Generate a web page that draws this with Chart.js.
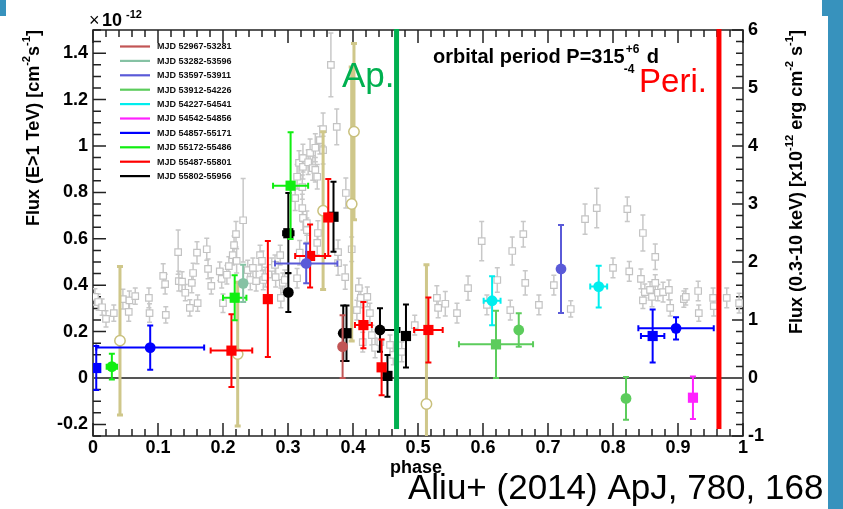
<!DOCTYPE html>
<html lang="en">
<head>
  <meta charset="UTF-8">
  <title>HESS J0632+057 phase-folded light curve</title>
  <script src="https://cdn.jsdelivr.net/npm/chart.js"></script>
  <style>
    html, body { margin: 0; padding: 0; background: #fff; }
    #wrap { position: relative; width: 843px; height: 509px; overflow: hidden; background: #fff; }
    #wrap canvas { display: block; }
    .band { position: absolute; background: #3792bd; }
  </style>
</head>
<body>
<div id="wrap">
  <canvas id="lc" width="843" height="509"></canvas>
  <div class="band" style="left:0;top:0;width:6px;height:16px"></div>
  <div class="band" style="left:822px;top:0;width:21px;height:16px"></div>
  <div class="band" style="left:828px;top:0;width:15px;height:509px"></div>
</div>

<script>
  const FONT = '"Liberation Sans", Arial, Helvetica, sans-serif';

  // axis ticks
  const phaseTicks = [0, 0.1, 0.2, 0.3, 0.4, 0.5, 0.6, 0.7, 0.8, 0.9, 1];
  const tevTicks = [-0.2, 0, 0.2, 0.4, 0.6, 0.8, 1, 1.2, 1.4];
  const xrayTicks = [-1, 0, 1, 2, 3, 4, 5, 6];

  // TeV flux per observing period: [phase, flux (1e-12), phase err, flux err, marker]
  const periods = ['MJD 52967-53281', 'MJD 53282-53596', 'MJD 53597-53911', 'MJD 53912-54226',
    'MJD 54227-54541', 'MJD 54542-54856', 'MJD 54857-55171', 'MJD 55172-55486',
    'MJD 55487-55801', 'MJD 55802-55956'];
  const mjd52967 = [[0.384, 0.135, 0, 0.135, 'ci']];
  const mjd53282 = [[0.231, 0.408, 0, 0.08, 'ci']];
  const mjd53597 = [[0.328, 0.494, 0.048, 0.086, 'ci'], [0.720, 0.470, 0, 0.19, 'ci']];
  const mjd53912 = [[0.620, 0.145, 0.057, 0.145, 'sq'], [0.655, 0.207, 0, 0.072, 'ci'], [0.820, -0.088, 0, 0.092, 'ci']];
  const mjd54227 = [[0.614, 0.333, 0.013, 0.106, 'ci'], [0.778, 0.394, 0.013, 0.09, 'ci']];
  const mjd54542 = [[0.923, -0.085, 0, 0.092, 'sq']];
  const mjd54857 = [[0.005, 0.043, 0, 0.095, 'sq'], [0.088, 0.131, 0.083, 0.095, 'ci'],
    [0.861, 0.181, 0.018, 0.114, 'sq'], [0.897, 0.214, 0.058, 0.048, 'ci']];
  const mjd55172 = [[0.029, 0.049, 0.008, 0.055, 'ci'], [0.218, 0.346, 0.018, 0.097, 'sq'], [0.304, 0.829, 0.027, 0.23, 'sq']];
  const mjd55487 = [[0.213, 0.118, 0.032, 0.157, 'sq'], [0.269, 0.340, 0, 0.25, 'sq'], [0.334, 0.526, 0.023, 0.136, 'sq'],
    [0.362, 0.692, 0, 0.166, 'sq'], [0.416, 0.228, 0.013, 0.10, 'sq'], [0.444, 0.046, 0, 0.12, 'sq'],
    [0.516, 0.207, 0.022, 0.14, 'sq']];
  const mjd55802 = [[0.3005, 0.624, 0.008, 0.173, 'sq'], [0.3005, 0.369, 0, 0.084, 'ci'], [0.370, 0.695, 0, 0.151, 'sq'],
    [0.385, 0.193, 0, 0.12, 'ci'], [0.390, 0.193, 0, 0.12, 'sq'], [0.4415, 0.207, [0, 0.03], 0.094, 'ci'],
    [0.453, 0.009, 0, 0.09, 'sq'], [0.4815, 0.181, 0, 0.136, 'sq']];
  const tevRows = [mjd52967, mjd53282, mjd53597, mjd53912, mjd54227, mjd54542, mjd54857, mjd55172, mjd55487, mjd55802];
  const periodColors = ['#c25555', '#86c2a4', '#5a5ad8', '#5ccc5c', '#00eeee', '#ff22ff', '#0000ff', '#11ee11', '#ff0000', '#000000'];

  // older TeV points (open circles)
  const openPhase = [0.0415, 0.2226, 0.354, 0.398, 0.4015, 0.513];
  const openFlux = [0.161, 0.103, 0.721, 0.750, 1.062, -0.112];
  const openErr = [0.32, 0.31, 0.34, 0.59, 0.38, 0.60];

  // Swift XRT 0.3-10 keV flux (1e-12 erg cm-2 s-1), right axis
  const xrayPhase = [0.003,0.008,0.014,0.020,0.032,0.046,0.055,0.056,0.065,0.086,
    0.087,0.108,0.111,0.112,0.131,0.132,0.137,0.142,0.149,0.152,
    0.154,0.160,0.161,0.175,0.177,0.182,0.195,0.198,0.200,0.206,
    0.209,0.215,0.217,0.220,0.221,0.231,0.238,0.242,0.246,0.251,
    0.257,0.260,0.262,0.265,0.275,0.280,0.281,0.288,0.289,0.292,
    0.295,0.311,0.314,0.314,0.317,0.318,0.322,0.322,0.323,0.323,
    0.323,0.329,0.329,0.331,0.334,0.338,0.342,0.342,0.345,0.345,
    0.346,0.349,0.354,0.354,0.366,0.375,0.377,0.377,0.388,0.389,
    0.398,0.406,0.409,0.412,0.415,0.422,0.426,0.429,0.434,0.442,
    0.457,0.462,0.475,0.495,0.529,0.531,0.542,0.560,0.577,0.598,
    0.606,0.622,0.642,0.645,0.662,0.665,0.686,0.709,0.735,0.757,
    0.775,0.800,0.822,0.825,0.843,0.846,0.846,0.849,0.857,0.860,
    0.865,0.865,0.869,0.877,0.886,0.888,0.909,0.912,0.931,0.932,
    0.954,0.955,0.975,0.994];
  const xrayFlux = [1.40,1.31,1.22,1.02,1.12,1.36,1.14,1.34,1.41,1.38,
    1.12,1.76,1.62,1.09,2.17,1.67,1.66,1.47,1.21,1.64,
    1.81,2.16,1.29,2.22,1.88,1.59,1.84,1.71,1.29,1.78,
    1.93,2.12,2.29,2.48,2.02,2.72,1.86,1.69,1.90,1.67,
    2.12,2.02,1.69,1.74,1.90,1.95,1.74,2.12,1.38,1.64,
    1.69,3.10,3.47,1.72,3.71,2.16,3.29,2.93,3.79,3.64,
    2.76,2.67,2.55,3.72,3.88,3.62,3.97,3.59,3.47,2.33,
    2.50,4.10,4.29,3.93,5.40,4.33,2.17,1.98,1.74,3.19,
    2.22,1.17,1.55,1.38,0.62,1.40,1.12,0.74,0.52,0.62,
    0.57,0.40,0.45,0.91,1.38,1.21,1.28,1.12,1.55,2.36,
    1.26,1.69,1.17,2.19,2.48,1.64,1.26,1.60,1.19,2.74,
    2.93,1.90,2.91,1.84,1.71,2.50,1.34,1.48,1.52,1.40,
    2.09,1.64,1.47,1.48,1.52,1.21,1.36,1.40,1.50,1.12,
    1.38,1.24,1.38,1.29];
  const xrayErr = [0.14,0.14,0.14,0.14,0.14,0.17,0.16,0.16,0.14,0.17,
    0.16,0.21,0.17,0.14,0.38,0.17,0.17,0.14,0.14,0.17,
    0.17,0.19,0.14,0.19,0.17,0.14,0.16,0.16,0.16,0.16,
    0.16,0.17,0.16,0.22,0.21,0.72,0.17,0.17,0.17,0.17,
    0.17,0.17,0.17,0.17,0.17,0.17,0.17,0.17,0.17,0.17,
    0.17,0.21,0.21,0.17,0.21,0.21,0.21,0.24,0.24,0.21,
    0.21,0.21,0.21,0.21,0.24,0.21,0.24,0.21,0.21,0.21,
    0.21,0.24,0.28,0.24,0.55,0.31,0.21,0.21,0.21,0.26,
    0.21,0.17,0.17,0.17,0.17,0.17,0.17,0.17,0.17,0.17,
    0.17,0.17,0.17,0.17,0.21,0.17,0.21,0.17,0.21,0.34,
    0.17,0.21,0.17,0.24,0.22,0.21,0.17,0.17,0.14,0.26,
    0.34,0.17,0.21,0.17,0.17,0.31,0.14,0.14,0.14,0.17,
    0.22,0.14,0.14,0.17,0.17,0.14,0.14,0.14,0.17,0.14,
    0.17,0.17,0.17,0.17];

  // apastron / periastron phases
  const apastron = 0.467;
  const periastron = 0.963;

  const fmt = v => String(Number(v.toFixed(2)));
  const tickFont = { family: FONT, size: 18, weight: 'bold' };

  const datasets = [];
  tevRows.forEach((rows, i) => {
    datasets.push({
      label: periods[i],
      yAxisID: 'y',
      order: 1,
      data: rows.map(r => ({ x: r[0], y: r[1] })),
      errX: rows.map(r => r[2]),
      errY: rows.map(r => r[3]),
      pointStyle: rows.map(r => r[4] === 'sq' ? 'rect' : 'circle'),
      pointRadius: rows.map(r => r[4] === 'sq' ? 7.2 : 5.4),
      backgroundColor: periodColors[i],
      borderColor: periodColors[i],
      borderWidth: 0,
      errColor: periodColors[i],
      errWidth: 2,
      capSize: 3
    });
  });
  datasets.push({
    label: 'open',
    yAxisID: 'y',
    order: 2,
    data: openPhase.map((p, j) => ({ x: p, y: openFlux[j] })),
    errY: openErr,
    pointStyle: 'circle',
    pointRadius: 5.2,
    backgroundColor: '#ffffff',
    borderColor: '#c9c07c',
    borderWidth: 1.5,
    errColor: '#cfc78a',
    errWidth: 3,
    capSize: 3
  });
  datasets.push({
    label: 'xray',
    yAxisID: 'y2',
    order: 3,
    data: xrayPhase.map((p, j) => ({ x: p, y: xrayFlux[j] })),
    errY: xrayErr,
    pointStyle: 'rect',
    pointRadius: 4.6,
    backgroundColor: '#ffffff',
    borderColor: '#c3c3c3',
    borderWidth: 1.2,
    errColor: '#c8c8c8',
    errWidth: 1.5,
    capSize: 2.5
  });

  // error bars go in right before each dataset's markers
  const errorBars = {
    id: 'errorBars',
    beforeDatasetDraw(chart, args) {
      const ds = chart.data.datasets[args.index];
      if (!ds.errY) return;
      const xs = chart.scales.x, ys = chart.scales[ds.yAxisID];
      const { ctx, chartArea: a } = chart;
      ctx.save();
      ctx.beginPath();
      ctx.rect(a.left, a.top, a.right - a.left, a.bottom - a.top);
      ctx.clip();
      ctx.strokeStyle = ds.errColor;
      ctx.lineWidth = ds.errWidth;
      const cap = ds.capSize;
      ds.data.forEach((p, j) => {
        const px = xs.getPixelForValue(p.x), py = ys.getPixelForValue(p.y);
        const ey = ds.errY[j];
        const ex = ds.errX ? ds.errX[j] : 0;
        const [xl, xh] = Array.isArray(ex) ? ex : [ex, ex];
        ctx.beginPath();
        if (ey) {
          const y1 = ys.getPixelForValue(p.y - ey), y2 = ys.getPixelForValue(p.y + ey);
          ctx.moveTo(px, y1); ctx.lineTo(px, y2);
          ctx.moveTo(px - cap, y1); ctx.lineTo(px + cap, y1);
          ctx.moveTo(px - cap, y2); ctx.lineTo(px + cap, y2);
        }
        if (xl) {
          const x1 = xs.getPixelForValue(p.x - xl);
          ctx.moveTo(px, py); ctx.lineTo(x1, py);
          ctx.moveTo(x1, py - cap); ctx.lineTo(x1, py + cap);
        }
        if (xh) {
          const x2 = xs.getPixelForValue(p.x + xh);
          ctx.moveTo(px, py); ctx.lineTo(x2, py);
          ctx.moveTo(x2, py - cap); ctx.lineTo(x2, py + cap);
        }
        ctx.stroke();
      });
      ctx.restore();
    }
  };

  // frame with inward ticks, zero line
  const frame = {
    id: 'frame',
    beforeDatasetsDraw(chart) {
      const { ctx, chartArea: a } = chart;
      const xs = chart.scales.x, ys = chart.scales.y, y2 = chart.scales.y2;
      ctx.save();
      ctx.strokeStyle = '#222';
      ctx.lineWidth = 1.5;
      ctx.strokeRect(a.left, a.top, a.right - a.left, a.bottom - a.top);
      ctx.beginPath();
      for (let i = 0; i <= 50; i++) {
        const px = xs.getPixelForValue(i * 0.02);
        const len = i % 5 === 0 ? 13 : 7;
        ctx.moveTo(px, a.bottom); ctx.lineTo(px, a.bottom - len);
        ctx.moveTo(px, a.top); ctx.lineTo(px, a.top + len);
      }
      for (let i = -5; i <= 30; i++) {
        const py = ys.getPixelForValue(i * 0.05);
        const len = i % 4 === 0 ? 13 : 8;
        ctx.moveTo(a.left, py); ctx.lineTo(a.left + len, py);
      }
      for (let i = -5; i <= 30; i++) {
        const py = y2.getPixelForValue(i * 0.2);
        const len = i % 5 === 0 ? 11 : 7;
        ctx.moveTo(a.right, py); ctx.lineTo(a.right - len, py);
      }
      ctx.stroke();
      const zy = ys.getPixelForValue(0);
      ctx.strokeStyle = '#555';
      ctx.lineWidth = 2;
      ctx.beginPath();
      ctx.moveTo(a.left, zy); ctx.lineTo(a.right, zy);
      ctx.stroke();
      ctx.restore();
    }
  };

  // text with raised / lowered pieces
  function richWidth(ctx, parts, size) {
    let w = 0;
    parts.forEach(([t, k]) => {
      ctx.font = `bold ${k ? size * 0.62 : size}px ${FONT}`;
      w += ctx.measureText(t).width;
    });
    return w;
  }
  function richDraw(ctx, parts, size, x, y) {
    parts.forEach(([t, k]) => {
      const s = k ? size * 0.62 : size;
      ctx.font = `bold ${s}px ${FONT}`;
      const dy = k === 'sup' ? -size * 0.45 : 0;
      ctx.fillText(t, x, y + dy);
      x += ctx.measureText(t).width;
    });
  }
  function verticalTitle(ctx, parts, size, baseX, topY) {
    const w = richWidth(ctx, parts, size);
    ctx.save();
    ctx.translate(baseX, topY);
    ctx.rotate(-Math.PI / 2);
    ctx.textBaseline = 'alphabetic';
    ctx.textAlign = 'left';
    richDraw(ctx, parts, size, -w, 0);
    ctx.restore();
  }

  const overlay = {
    id: 'overlay',
    afterDatasetsDraw(chart) {
      const { ctx, chartArea: a } = chart;
      const xs = chart.scales.x, ys = chart.scales.y;
      ctx.save();
      const lineBottom = ys.getPixelForValue(-0.22);
      const ax = xs.getPixelForValue(apastron), rx = xs.getPixelForValue(periastron);
      ctx.fillStyle = '#00b050';
      ctx.fillRect(ax - 2.5, a.top - 1, 5, lineBottom - a.top + 1);
      ctx.fillStyle = '#ff0000';
      ctx.fillRect(rx - 2.5, a.top - 1, 5, lineBottom - a.top + 1);

      ctx.textBaseline = 'alphabetic';
      ctx.textAlign = 'right';
      ctx.font = `35px ${FONT}`;
      ctx.fillStyle = '#00b050';
      ctx.fillText('Ap.', ax - 2, 86.5);
      ctx.font = `33px ${FONT}`;
      ctx.fillStyle = '#ff0000';
      ctx.fillText('Peri.', rx - 12, 91.5);

      // legend
      ctx.textAlign = 'left';
      ctx.textBaseline = 'middle';
      periods.forEach((name, i) => {
        const y = 46.5 + i * 14.4;
        ctx.strokeStyle = periodColors[i];
        ctx.lineWidth = 2.2;
        ctx.beginPath();
        ctx.moveTo(120, y); ctx.lineTo(150, y);
        ctx.stroke();
        ctx.fillStyle = '#111';
        ctx.font = `bold 9px ${FONT}`;
        ctx.fillText(name, 157, y + 0.5);
      });

      // period annotation
      ctx.textBaseline = 'alphabetic';
      ctx.fillStyle = '#000';
      ctx.font = `bold 20px ${FONT}`;
      const base = 'orbital period P=315';
      ctx.fillText(base, 433, 63);
      const bx = 433 + ctx.measureText(base).width;
      ctx.font = `bold 12px ${FONT}`;
      ctx.fillText('+6', bx + 1, 53);
      ctx.fillText('-4', bx - 1, 73);
      ctx.font = `bold 20px ${FONT}`;
      ctx.fillText('d', bx + 22, 63);
      ctx.restore();
    },
    afterDraw(chart) {
      const { ctx } = chart;
      ctx.save();
      ctx.fillStyle = '#000';
      // exponent of the left axis
      ctx.textBaseline = 'alphabetic';
      ctx.textAlign = 'left';
      ctx.font = `18px ${FONT}`;
      ctx.fillText('\u00d7', 89, 26);
      ctx.font = `bold 18px ${FONT}`;
      ctx.fillText('10', 102, 26);
      ctx.font = `bold 11px ${FONT}`;
      ctx.fillText('-12', 126, 18);

      verticalTitle(ctx, [['Flux (E>1 TeV) [cm'], ['-2', 'sup'], ['s'], ['-1', 'sup'], [']']], 18, 38.5, 30);
      verticalTitle(ctx, [['Flux (0.3-10 keV) [x10'], ['-12', 'sup'], [' erg cm'], ['-2', 'sup'], [' s'], ['-1', 'sup'], [']']], 18, 801.5, 30);

      ctx.font = `bold 18px ${FONT}`;
      ctx.fillText('phase', 390, 473);

      ctx.font = `35px ${FONT}`;
      ctx.fillText('Aliu+ (2014) ApJ, 780, 168', 408, 499);
      ctx.restore();
    }
  };

  new Chart(document.getElementById('lc'), {
    type: 'scatter',
    data: { datasets },
    options: {
      responsive: false,
      animation: false,
      devicePixelRatio: 1,
      layout: { padding: { top: 30, left: 0, right: 0, bottom: 0 } },
      plugins: { legend: { display: false }, tooltip: { enabled: false } },
      scales: {
        x: {
          type: 'linear', position: 'bottom', min: 0, max: 1,
          grid: { display: false, drawTicks: false }, border: { display: false },
          afterBuildTicks: s => { s.ticks = phaseTicks.map(v => ({ value: v })); },
          afterFit: s => { s.height = 73; },
          ticks: { autoSkip: false, maxRotation: 0, padding: 1, color: '#000', font: tickFont, callback: v => fmt(v) }
        },
        y: {
          type: 'linear', position: 'left', min: -0.25, max: 1.5,
          grid: { display: false, drawTicks: false }, border: { display: false },
          afterBuildTicks: s => { s.ticks = tevTicks.map(v => ({ value: v })); },
          afterFit: s => { s.width = 93; },
          ticks: { autoSkip: false, padding: 5, color: '#000', font: tickFont, callback: v => fmt(v) }
        },
        y2: {
          type: 'linear', position: 'right', min: -1, max: 6,
          grid: { display: false, drawTicks: false }, border: { display: false },
          afterBuildTicks: s => { s.ticks = xrayTicks.map(v => ({ value: v })); },
          afterFit: s => { s.width = 100; },
          ticks: { autoSkip: false, padding: 5, color: '#000', font: tickFont, callback: v => fmt(v) }
        }
      }
    },
    plugins: [frame, errorBars, overlay]
  });
</script>
</body>
</html>
